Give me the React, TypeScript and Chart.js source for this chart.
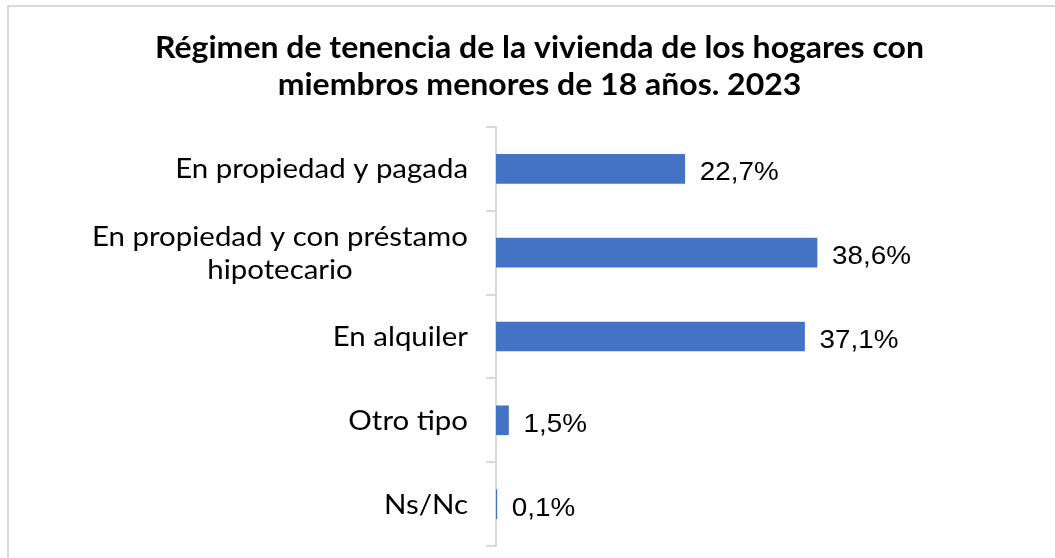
import React, { useEffect, useRef } from "react";
import { Chart, registerables } from "chart.js";

Chart.register(...registerables);

const titleLines = [
  "Régimen de tenencia de la vivienda de los hogares con",
  "miembros menores de 18 años. 2023",
];
const categories: (string | string[])[] = [
  "En propiedad y pagada",
  ["En propiedad y con préstamo", "hipotecario"],
  "En alquiler",
  "Otro tipo",
  "Ns/Nc",
];
const values = [22.7, 38.6, 37.1, 1.5, 0.1];
const valueLabels = ["22,7%", "38,6%", "37,1%", "1,5%", "0,1%"];

const TITLE_FONT = "bold 30.5px Lato";
const TITLE_WIDTH = 769; // target width of first title line
const TITLE_LINE = 37;
const CAT_FONT = "27px Lato";
const CAT_REF_WIDTH = 376; // target width of the widest category line
const CAT_LINE = 32.6;
const VAL_FONT = "26.5px 'Liberation Sans'";
const VAL_SX = 1.05;

function drawScaled(ctx: CanvasRenderingContext2D, text: string, x: number, y: number, align: CanvasTextAlign, sx: number) {
  ctx.save();
  ctx.translate(x, y);
  ctx.scale(sx, 1);
  ctx.textAlign = align;
  ctx.fillText(text, 0, 0);
  ctx.restore();
}

const labelsPlugin = {
  id: "customLabels",
  afterDatasetsDraw(chart: any) {
    const ctx = chart.ctx;
    const meta = chart.getDatasetMeta(0);
    ctx.save();
    ctx.font = VAL_FONT;
    ctx.fillStyle = "#000";
    ctx.textBaseline = "alphabetic";
    meta.data.forEach((el: any, i: number) => {
      drawScaled(ctx, valueLabels[i], el.x + 15, el.y + 11.5, "left", VAL_SX);
    });
    ctx.restore();
  },
  afterDraw(chart: any) {
    const ctx = chart.ctx;
    ctx.save();
    ctx.font = TITLE_FONT;
    ctx.fillStyle = "#000";
    ctx.textBaseline = "alphabetic";
    const tsx = TITLE_WIDTH / ctx.measureText(titleLines[0]).width;
    const cx = chart.width / 2;
    titleLines.forEach((l, k) => drawScaled(ctx, l, cx, 51 + k * TITLE_LINE, "center", tsx));
    ctx.restore();

    const y = chart.scales.y;
    const right = chart.chartArea.left - 28;
    ctx.save();
    ctx.font = CAT_FONT;
    ctx.fillStyle = "#000";
    ctx.textBaseline = "alphabetic";
    const sx = CAT_REF_WIDTH / ctx.measureText("En propiedad y con préstamo").width;
    y.getLabels().forEach((lab: any, i: number) => {
      const lines: string[] = Array.isArray(lab) ? lab : [lab];
      const widest = Math.max(...lines.map((l) => ctx.measureText(l).width)) * sx;
      const lx = right - widest / 2;
      const cy = y.getPixelForValue(i);
      const start = cy - ((lines.length - 1) * CAT_LINE) / 2 + 9.5;
      lines.forEach((l, k) => drawScaled(ctx, l, lx, start + k * CAT_LINE, "center", sx));
    });
    ctx.restore();
  },
};

export default function App() {
  const ref = useRef<HTMLCanvasElement>(null);
  useEffect(() => {
    if (!ref.current) return;
    const chart = new Chart(ref.current, {
      type: "bar",
      data: {
        labels: categories as any,
        datasets: [
          {
            data: values,
            backgroundColor: "#4472C4",
            barThickness: 29,
          },
        ],
      },
      options: {
        indexAxis: "y",
        animation: false,
        responsive: true,
        maintainAspectRatio: false,
        layout: { padding: { left: 0, right: 75, top: 120, bottom: 12 } },
        plugins: {
          legend: { display: false },
          tooltip: { enabled: false },
          title: { display: false },
        },
        scales: {
          x: { display: false, min: 0, max: 60 },
          y: {
            offset: true,
            z: 1,
            ticks: { display: false },
            grid: {
              offset: true,
              drawOnChartArea: false,
              drawTicks: true,
              tickLength: 10,
              color: "#d9d9d9",
              lineWidth: 2,
            },
            border: { display: true, color: "#d9d9d9", width: 2 },
            afterFit(scale: any) {
              scale.width = 487;
            },
          },
        },
      },
      plugins: [labelsPlugin],
    });
    return () => chart.destroy();
  }, []);
  return (
    <div
      style={{
        position: "fixed",
        left: 7,
        top: 5,
        border: "2px solid #d9d9d9",
        background: "#fff",
      }}
    >
      <div style={{ position: "relative", width: 1061, height: 551 }}>
        <canvas ref={ref} />
      </div>
    </div>
  );
}
